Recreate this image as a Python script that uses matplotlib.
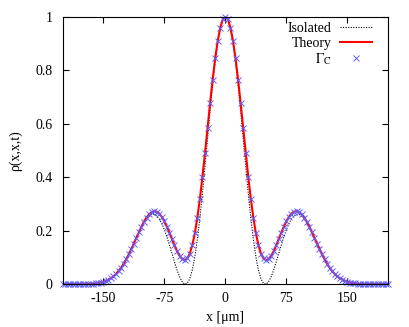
"""Density profile rho(x,x,t): isolated case, theory curve and Gamma_C samples."""

import matplotlib

matplotlib.use("Agg")

import matplotlib.pyplot as plt
import numpy as np

# x grid [um], one sample every ~3.1 um across the plotted range
x_um = np.linspace(-200, 200, 129)

# values (symmetric about x = 0)
theory = [
    0.000, 0.000, 0.000, 0.000, 0.000, 0.000, 0.000, 0.000, 0.000, 0.001,
    0.001, 0.001, 0.002, 0.003, 0.004, 0.006, 0.009, 0.012, 0.017, 0.022,
    0.029, 0.038, 0.049, 0.061, 0.076, 0.093, 0.111, 0.131, 0.152, 0.174,
    0.195, 0.215, 0.234, 0.249, 0.261, 0.269, 0.273, 0.271, 0.264, 0.252,
    0.235, 0.215, 0.193, 0.169, 0.145, 0.123, 0.106, 0.094, 0.090, 0.096,
    0.114, 0.146, 0.190, 0.249, 0.320, 0.402, 0.491, 0.584, 0.677, 0.765,
    0.844, 0.910, 0.959, 0.990, 1.000,
    0.990, 0.959, 0.910, 0.844,
    0.765, 0.677, 0.584, 0.491, 0.402, 0.320, 0.249, 0.190, 0.146, 0.114,
    0.096, 0.090, 0.094, 0.106, 0.123, 0.145, 0.169, 0.193, 0.215, 0.235,
    0.252, 0.264, 0.271, 0.273, 0.269, 0.261, 0.249, 0.234, 0.215, 0.195,
    0.174, 0.152, 0.131, 0.111, 0.093, 0.076, 0.061, 0.049, 0.038, 0.029,
    0.022, 0.017, 0.012, 0.009, 0.006, 0.004, 0.003, 0.002, 0.001, 0.001,
    0.001, 0.000, 0.000, 0.000, 0.000, 0.000, 0.000, 0.000, 0.000, 0.000,
]

isolated = [
    0.000, 0.000, 0.000, 0.000, 0.000, 0.000, 0.000, 0.000, 0.000, 0.001,
    0.001, 0.001, 0.002, 0.003, 0.004, 0.006, 0.009, 0.012, 0.017, 0.022,
    0.029, 0.038, 0.049, 0.061, 0.076, 0.093, 0.111, 0.131, 0.151, 0.173,
    0.193, 0.213, 0.230, 0.245, 0.255, 0.261, 0.261, 0.255, 0.244, 0.227,
    0.204, 0.177, 0.147, 0.115, 0.083, 0.053, 0.028, 0.009, 0.000, 0.003,
    0.020, 0.053, 0.102, 0.168, 0.248, 0.340, 0.441, 0.545, 0.649, 0.746,
    0.832, 0.903, 0.956, 0.989, 1.000,
    0.989, 0.956, 0.903, 0.832,
    0.746, 0.649, 0.545, 0.441, 0.340, 0.248, 0.168, 0.102, 0.053, 0.020,
    0.003, 0.000, 0.009, 0.028, 0.053, 0.083, 0.115, 0.147, 0.177, 0.204,
    0.227, 0.244, 0.255, 0.261, 0.261, 0.255, 0.245, 0.230, 0.213, 0.193,
    0.173, 0.151, 0.131, 0.111, 0.093, 0.076, 0.061, 0.049, 0.038, 0.029,
    0.022, 0.017, 0.012, 0.009, 0.006, 0.004, 0.003, 0.002, 0.001, 0.001,
    0.001, 0.000, 0.000, 0.000, 0.000, 0.000, 0.000, 0.000, 0.000, 0.000,
]

# Gamma_C samples sit on the theory curve
gamma_c = theory

x_ticks = [-150, -75, 0, 75, 150]
y_ticks = [0, 0.2, 0.4, 0.6, 0.8, 1]
y_tick_labels = ["0", "0.2", "0.4", "0.6", "0.8", "1"]

plt.rcParams["font.family"] = ["Liberation Serif", "DejaVu Serif"]
plt.rcParams["mathtext.fontset"] = "stix"
plt.rcParams["axes.unicode_minus"] = False
plt.rcParams["font.size"] = 10

fig = plt.figure(figsize=(4.09, 3.27), dpi=100)
ax = fig.add_axes([0.153, 0.131, 0.796, 0.818])

ax.plot(x_um, isolated, color="black", lw=0.8, ls=(0, (1, 1.3)), label="Isolated")
ax.plot(x_um, theory, color="red", lw=1.5, label="Theory")
ax.plot(x_um, gamma_c, ls="none", marker="x", ms=4, mew=0.7,
        color="#6060ff", label=r"$\Gamma_\mathrm{C}$", clip_on=False)

ax.set_xlim(-200, 200)
ax.set_ylim(0, 1)
ax.set_xticks(x_ticks)
ax.set_xticklabels([str(t) for t in x_ticks])
ax.set_yticks(y_ticks)
ax.set_yticklabels(y_tick_labels)
ax.tick_params(direction="in", top=True, right=True, length=4, width=0.8,
               labelsize=10)
ax.tick_params(axis="y", pad=7)
ax.tick_params(axis="x", pad=6)
for sp in ax.spines.values():
    sp.set_linewidth(0.8)

ax.set_xlabel("x [μm]", fontsize=10, labelpad=4)
ax.set_ylabel("ρ(x,x,t)", fontsize=10, labelpad=10)

ax.legend(loc="upper right", bbox_to_anchor=(0.968, 1.0), frameon=False,
          markerfirst=False, handlelength=2.3, handletextpad=0.6,
          labelspacing=0.1, borderaxespad=0, fontsize=10)

fig.savefig("out.png")
